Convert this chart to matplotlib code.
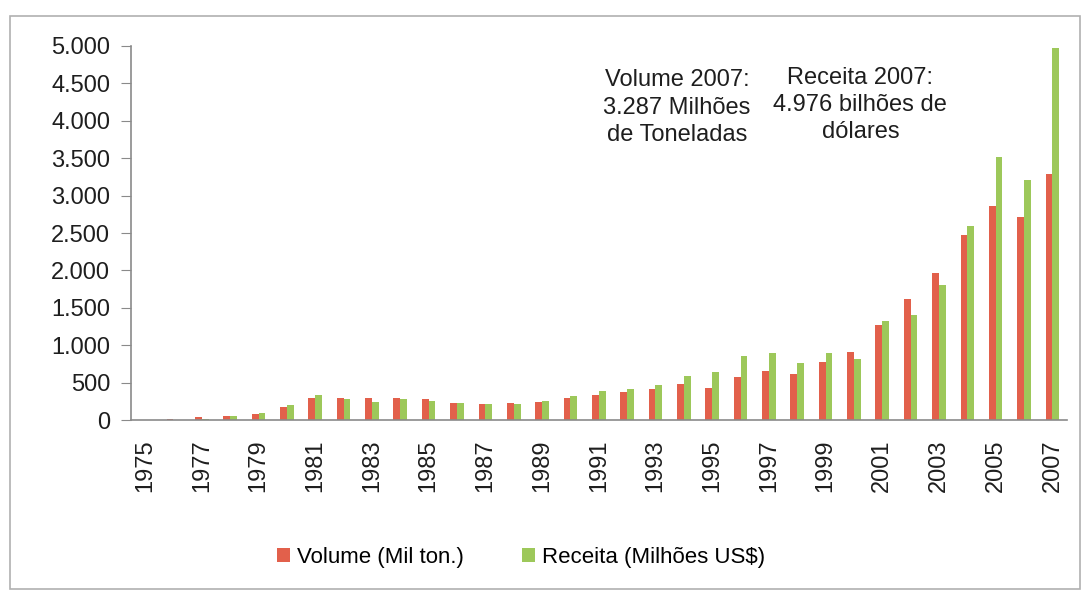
import numpy as np
import matplotlib.pyplot as plt
from matplotlib.patches import Rectangle

plt.rcParams['font.family'] = ['Liberation Sans', 'DejaVu Sans']

anos = list(range(1975, 2008))
volume = [4, 10, 35, 55, 85, 170, 290, 300, 290, 290, 275, 225, 220, 225, 240, 300,
          330, 370, 420, 480, 430, 570, 650, 610, 780, 905, 1270, 1620, 1960, 2470,
          2860, 2720, 3287]
receita = [2, 6, 20, 50, 90, 205, 340, 285, 245, 275, 255, 225, 215, 210, 255, 320,
           390, 420, 470, 590, 640, 860, 895, 760, 900, 815, 1330, 1400, 1810, 2600,
           3510, 3210, 4976]
rotulos = [str(a) if a % 2 == 1 else '' for a in anos]

vermelho = '#E2604B'
verde = '#9DC85A'
texto = '#1e1e1e'

fig = plt.figure(figsize=(10.85, 5.91), dpi=100)
ax = fig.add_axes([0.1207, 0.2893, 0.8623, 0.6329])

x = np.arange(len(anos))
w = 0.24
ax.bar(x - w / 2, volume, w, color=vermelho, label='Volume (Mil ton.)')
ax.bar(x + w / 2, receita, w, color=verde, label='Receita (Milhões US$)')

ax.set_xlim(-0.5, len(anos) - 0.5)
ax.set_ylim(0, 5000)
ax.set_yticks(np.arange(0, 5001, 500))
ax.set_yticklabels([f'{v:,}'.replace(',', '.') for v in range(0, 5001, 500)])
ax.set_xticks(x)
ax.set_xticklabels(rotulos, rotation=90)

for s in ['top', 'right']:
    ax.spines[s].set_visible(False)
for s in ['left', 'bottom']:
    ax.spines[s].set_color('#8a8a8a')
    ax.spines[s].set_linewidth(1.2)
ax.tick_params(axis='y', length=7, color='#8a8a8a', labelsize=17, labelcolor=texto, pad=8)
ax.tick_params(axis='x', length=0, labelsize=17, labelcolor=texto, pad=14)

fig.text(0.624, 0.818, 'Volume 2007:\n3.287 Milhões\nde Toneladas', ha='center', va='center',
         fontsize=17, color=texto, linespacing=1.3)
fig.text(0.793, 0.822, 'Receita 2007:\n4.976 bilhões de\ndólares', ha='center', va='center',
         fontsize=17, color=texto, linespacing=1.3)

ax.legend(loc='center', bbox_to_anchor=(0.48, 0.057), bbox_transform=fig.transFigure, ncol=2,
          frameon=False, fontsize=16, handlelength=0.6, handleheight=0.6, columnspacing=2.6,
          handletextpad=0.3)

fig.patches.append(Rectangle((10 / 1085, 2 / 591), 1070 / 1085, 573 / 591, transform=fig.transFigure,
                             fill=False, edgecolor='#b0b0b0', linewidth=1.2))

fig.savefig('out.png', dpi=100)
